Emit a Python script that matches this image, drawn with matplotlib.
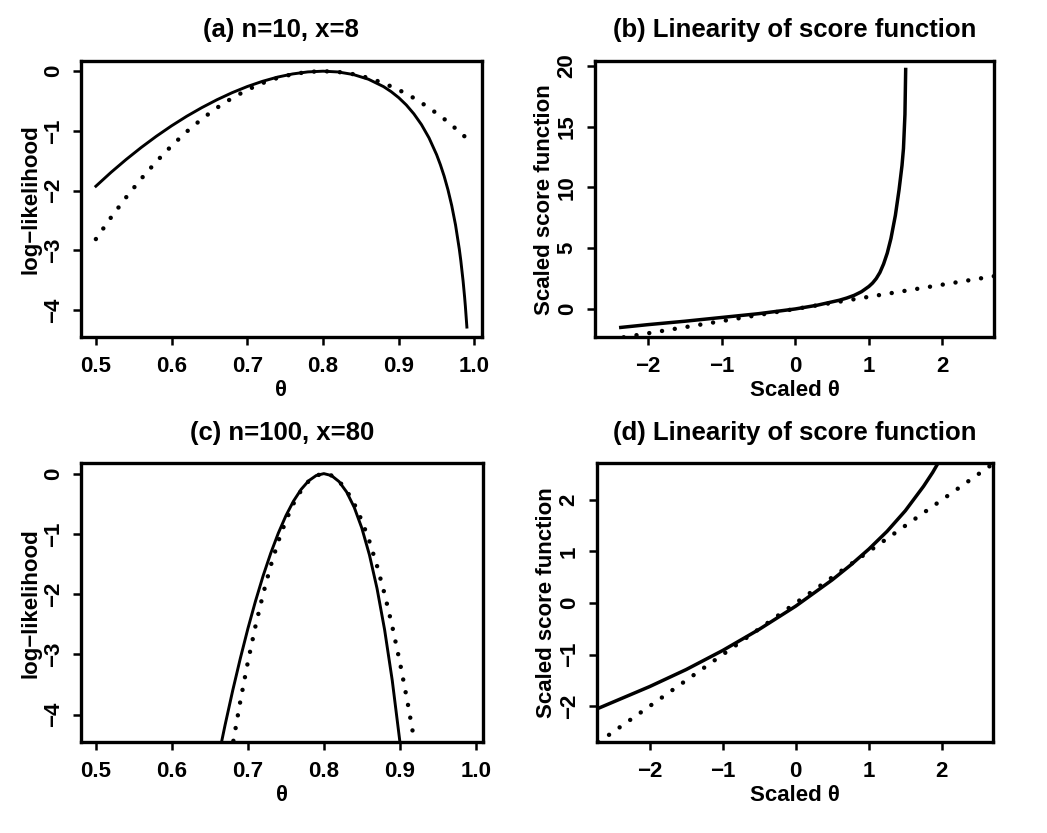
import matplotlib
matplotlib.use("Agg")
import matplotlib.pyplot as plt

# (a) n=10, x=8 : log-likelihood and its quadratic approximation
theta_a = [0.50, 0.52, 0.54, 0.56, 0.58, 0.60, 0.62, 0.64, 0.66, 0.68, 0.70,
           0.72, 0.74, 0.76, 0.78, 0.80, 0.82, 0.84, 0.86, 0.88, 0.89, 0.90,
           0.91, 0.92, 0.93, 0.94, 0.95, 0.955, 0.96, 0.965, 0.97, 0.975,
           0.98, 0.982, 0.985, 0.987, 0.988, 0.99]
loglik_a = [-1.927, -1.695, -1.479, -1.277, -1.089, -0.915, -0.755, -0.610,
            -0.478, -0.360, -0.257, -0.170, -0.099, -0.046, -0.012, 0.0,
            -0.013, -0.056, -0.135, -0.259, -0.343, -0.444, -0.566, -0.715,
            -0.895, -1.118, -1.398, -1.567, -1.760, -1.986, -2.253, -2.576,
            -2.982, -3.176, -3.516, -3.786, -3.938, -4.287]
theta_qa = [0.50, 0.52, 0.54, 0.56, 0.58, 0.60, 0.62, 0.64, 0.66, 0.68, 0.70,
            0.72, 0.74, 0.76, 0.78, 0.80, 0.82, 0.84, 0.86, 0.88, 0.90, 0.92,
            0.94, 0.96, 0.98, 0.99]
quad_a = [-2.8125, -2.45, -2.1125, -1.8, -1.5125, -1.25, -1.0125, -0.8,
          -0.6125, -0.45, -0.3125, -0.2, -0.1125, -0.05, -0.0125, 0.0,
          -0.0125, -0.05, -0.1125, -0.2, -0.3125, -0.45, -0.6125, -0.8,
          -1.0125, -1.128]

# (c) n=100, x=80
theta_c = [0.66, 0.67, 0.68, 0.69, 0.70, 0.71, 0.72, 0.73, 0.74, 0.75, 0.76,
           0.77, 0.78, 0.79, 0.80, 0.81, 0.82, 0.83, 0.84, 0.85, 0.86, 0.87,
           0.88, 0.89, 0.90, 0.91]
loglik_c = [-4.777, -4.171, -3.601, -3.069, -2.573, -2.117, -1.699, -1.324,
            -0.990, -0.700, -0.457, -0.263, -0.119, -0.031, 0.0, -0.032,
            -0.132, -0.305, -0.560, -0.904, -1.348, -1.905, -2.592, -3.428,
            -4.440, -5.664]
theta_qc = [0.67, 0.68, 0.69, 0.70, 0.71, 0.72, 0.73, 0.74, 0.75, 0.76, 0.77,
            0.78, 0.79, 0.80, 0.81, 0.82, 0.83, 0.84, 0.85, 0.86, 0.87, 0.88,
            0.89, 0.90, 0.91, 0.92, 0.93]
quad_c = [-5.281, -4.5, -3.781, -3.125, -2.531, -2.0, -1.531, -1.125, -0.781,
          -0.5, -0.281, -0.125, -0.031, 0.0, -0.031, -0.125, -0.281, -0.5,
          -0.781, -1.125, -1.531, -2.0, -2.531, -3.125, -3.781, -4.5, -5.281]

# (b) and (d): scaled score against scaled theta, with the line y = x
z_b = [-2.37, -2.0, -1.5, -1.0, -0.5, 0.0, 0.3, 0.6, 0.7, 0.8, 0.9, 1.0, 1.05,
       1.1, 1.15, 1.2, 1.25, 1.3, 1.36, 1.41, 1.45, 1.47, 1.49, 1.50]
score_b = [-1.52, -1.29, -1.01, -0.70, -0.39, 0.0, 0.31, 0.72, 0.90, 1.12,
           1.42, 1.85, 2.13, 2.50, 3.00, 3.70, 4.60, 5.80, 7.70, 9.80, 11.8,
           13.2, 16.0, 19.7]
z_d = [-2.75, -2.5, -2.0, -1.5, -1.0, -0.5, 0.0, 0.5, 0.75, 1.0, 1.25, 1.5,
       1.75, 1.875, 2.0]
score_d = [-2.07, -1.92, -1.62, -1.29, -0.92, -0.51, -0.06, 0.45, 0.735,
           1.045, 1.39, 1.79, 2.265, 2.534, 2.84]
linear_slope = 1.0

theta_ticks = [0.5, 0.6, 0.7, 0.8, 0.9, 1.0]
loglik_ticks = [0, -1, -2, -3, -4]
z_ticks = [-2, -1, 0, 1, 2]
score_ticks_b = [0, 5, 10, 15, 20]
score_ticks_d = [-2, -1, 0, 1, 2]

plt.rcParams['font.family'] = ['Liberation Sans', 'DejaVu Sans']
plt.rcParams['font.weight'] = 'bold'

DOT = (0, (0.01, 2.9))


def style(ax, xticks, yticks):
    ax.set_xticks(xticks)
    ax.set_yticks(yticks)
    ax.tick_params(direction='out', length=5.5, width=1.8, labelsize=16, pad=8)
    ax.tick_params(axis='y', labelrotation=90, pad=7)
    for lab in ax.get_yticklabels():
        lab.set_va('center')
    for sp in ax.spines.values():
        sp.set_linewidth(2.4)


fig = plt.figure(figsize=(10.47, 8.33), dpi=100)
ax_a = fig.add_axes([0.0774, 0.5951, 0.3827, 0.3317])
ax_b = fig.add_axes([0.5683, 0.5951, 0.3811, 0.3317])
ax_c = fig.add_axes([0.0774, 0.1089, 0.3840, 0.3349])
ax_d = fig.add_axes([0.5702, 0.1089, 0.3782, 0.3349])

for ax, th, ll, tq, qq, title in [
        (ax_a, theta_a, loglik_a, theta_qa, quad_a, '(a) n=10, x=8'),
        (ax_c, theta_c, loglik_c, theta_qc, quad_c, '(c) n=100, x=80')]:
    ax.plot(th, ll, color='black', lw=2.1)
    ax.plot(tq, qq, color='black', lw=3.2, linestyle=DOT, dash_capstyle='round')
    ax.set_xlim(0.4804, 1.0096)
    ax.set_ylim(-4.458, 0.171)
    style(ax, theta_ticks, loglik_ticks)
    ax.set_title(title, fontsize=18.5, fontweight='bold', pad=17)
    ax.set_xlabel('\u03b8', fontsize=16, fontweight='bold', labelpad=2)
    ax.set_ylabel('log\u2212likelihood', fontsize=16, fontweight='bold', labelpad=1)

for ax, zz, ss, yl, yt, title in [
        (ax_b, z_b, score_b, (-2.33, 20.4), score_ticks_b, '(b) Linearity of score function'),
        (ax_d, z_d, score_d, (-2.70, 2.71), score_ticks_d, '(d) Linearity of score function')]:
    ax.plot(zz, ss, color='black', lw=2.5)
    ax.axline((0, 0), slope=linear_slope, color='black', lw=3.2,
              linestyle=DOT, dash_capstyle='round')
    ax.set_xlim(-2.72, 2.70)
    ax.set_ylim(*yl)
    style(ax, z_ticks, yt)
    ax.set_title(title, fontsize=18.5, fontweight='bold', pad=17)
    ax.set_xlabel('Scaled \u03b8', fontsize=16, fontweight='bold', labelpad=2)
    ax.set_ylabel('Scaled score function', fontsize=16, fontweight='bold', labelpad=1)

fig.savefig('out.png', dpi=100)
